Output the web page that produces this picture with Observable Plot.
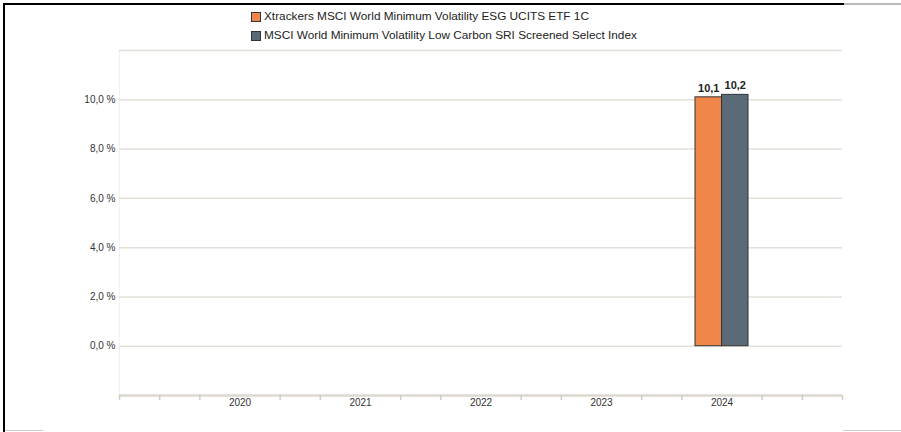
<!DOCTYPE html>
<html>
<head>
<meta charset="utf-8">
<script src="https://cdn.jsdelivr.net/npm/d3@7"></script>
<script src="https://cdn.jsdelivr.net/npm/@observablehq/plot@0.6"></script>
<style>
  body { margin: 0; background: #fff; font-family: "Liberation Sans", Arial, sans-serif; }
  #wrap { position: relative; width: 901px; height: 432px; overflow: hidden; }
  #chart { position: absolute; left: 0; top: 0; }
  .legend { position: absolute; left: 251px; top: 7px; font-size: 11.8px; color: #222; line-height: 19px; }
  .legend div { display: flex; align-items: center; height: 19px; white-space: nowrap; }
  .sw { width: 8px; height: 8px; border: 1px solid #333; margin-right: 3px; }
  .bl { position: absolute; background: #000; }
</style>
</head>
<body>
<div id="wrap">
  <div id="chart"></div>
  <div class="legend" id="legend"></div>
  <div class="bl" style="left:3px;top:3px;width:2px;height:429px;"></div>
  <div class="bl" style="left:3px;top:3px;width:841px;height:2px;"></div>
  <div class="bl" style="left:844px;top:3px;width:57px;height:2px;background:#bbb;"></div>
  <div class="bl" style="left:5px;top:430px;width:38px;height:1px;background:#ccc;"></div>
  <div class="bl" style="left:843px;top:430px;width:58px;height:1px;background:#ccc;"></div>
</div>
<script>
const years = [2020, 2021, 2022, 2023, 2024];
const seriesNames = [
  "Xtrackers MSCI World Minimum Volatility ESG UCITS ETF 1C",
  "MSCI World Minimum Volatility Low Carbon SRI Screened Select Index"
];
const seriesColors = ["#f0864a", "#5a6a77"];
const fundValues = [null, null, null, null, 10.1];
const indexValues = [null, null, null, null, 10.2];
const yTicks = [0, 2, 4, 6, 8, 10];
const gridTicks = [0, 2, 4, 6, 8, 10, 12];

const data = [];
years.forEach((yr, i) => {
  if (fundValues[i] != null) data.push({year: yr, series: 0, value: fundValues[i]});
  if (indexValues[i] != null) data.push({year: yr, series: 1, value: indexValues[i]});
});
const bw = 0.22;
const minorTicks = d3.range(0, 19).map(k => 2019 + k / 3).filter((v, k) => k % 3 !== 0 || k === 0 || k === 18);
const fmt = v => v.toFixed(1).replace(".", ",");

const plot = Plot.plot({
  width: 901,
  height: 432,
  marginLeft: 119,
  marginRight: 59,
  marginTop: 50,
  marginBottom: 37,
  style: {fontFamily: "'Liberation Sans', Arial, sans-serif", background: "transparent"},
  x: {type: "linear", domain: [2019, 2025], axis: null, label: null},
  y: {domain: [-2, 12], axis: null, label: null},
  marks: [
    Plot.ruleX([2019], {y1: -2, y2: 12, stroke: "#f2f2f2", strokeWidth: 1}),
    Plot.ruleY(gridTicks, {stroke: "#e3e0d9", strokeWidth: 1.5}),
    Plot.ruleY([-2], {stroke: "#dcd8cf", strokeWidth: 2.5}),
    Plot.axisX(minorTicks, {anchor: "bottom", tickSize: 5, tickFormat: () => "", stroke: "#d0ccc3", strokeWidth: 1.5, label: null}),
    Plot.axisX(years, {anchor: "bottom", tickSize: 0, tickPadding: 3, tickFormat: d => String(d), fontSize: 10, fill: "#333", label: null}),
    Plot.axisY(yTicks, {anchor: "left", tickSize: 0, tickPadding: 4, tickFormat: d => fmt(d) + " %", fontSize: 10, fill: "#333", label: null}),
    Plot.rectY(data, {
      x1: d => d.series === 0 ? d.year - bw : d.year,
      x2: d => d.series === 0 ? d.year : d.year + bw,
      y1: 0,
      y2: "value",
      fill: d => seriesColors[d.series],
      stroke: "#333",
      strokeWidth: 1
    }),
    Plot.text(data, {
      x: d => d.series === 0 ? d.year - bw / 2 : d.year + bw / 2,
      y: "value",
      text: d => fmt(d.value),
      dy: -9,
      fontSize: 11,
      fontWeight: "bold",
      fill: "#222"
    })
  ]
});
document.getElementById("chart").appendChild(plot);

const legend = document.getElementById("legend");
seriesNames.forEach((n, i) => {
  const row = document.createElement("div");
  const sw = document.createElement("span");
  sw.className = "sw";
  sw.style.background = seriesColors[i];
  row.appendChild(sw);
  row.appendChild(document.createTextNode(n));
  legend.appendChild(row);
});
</script>
</body>
</html>
